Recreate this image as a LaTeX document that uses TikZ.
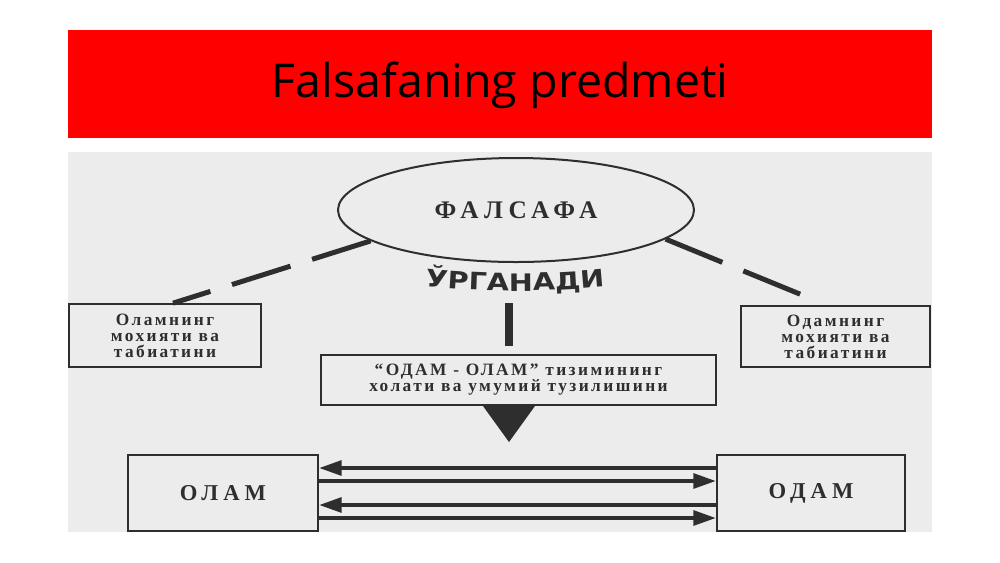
\documentclass[tikz,border=0pt]{standalone}
\usepackage{fontspec}
\setmainfont{Liberation Serif}
\newfontfamily\titlefont{Open Sans}
\newfontfamily\scanfont{Liberation Serif}[LetterSpace=14]
\newfontfamily\wordfont{Liberation Serif}[LetterSpace=22]
\newfontfamily\arcfont{DejaVu Sans}[FakeStretch=1.2]
\usetikzlibrary{shapes.geometric,arrows.meta,decorations.text}
\definecolor{banner}{rgb}{1,0,0}
\definecolor{scan}{rgb}{0.925,0.925,0.925}
\definecolor{ink}{rgb}{0.18,0.18,0.18}

\begin{document}
\begin{tikzpicture}[x=0.75pt,y=-0.75pt,
    frame/.style={draw=ink,line width=1.5pt,inner sep=0pt,text=ink},
    smalltext/.style={font=\scanfont\bfseries\fontsize{13}{12}\selectfont,align=center},
    dashline/.style={ink,line width=3.75pt,dash pattern=on 46pt off 17pt},
    flow/.style={ink,line width=3pt,-{Triangle[length=17pt,width=11pt]}}]
    \useasboundingbox (0,0) rectangle (1000,562);
    % title banner
    \fill[banner] (68,30) rectangle (932,138);
    \node[anchor=base,font=\titlefont\fontsize{34.9}{40}\selectfont] (title) at (500,97) {Falsafaning predmeti};
    % scanned scheme
    \fill[scan] (68,152) rectangle (932,532);
    \node[frame,ellipse,minimum width=267pt,minimum height=78pt,font=\wordfont\bfseries\fontsize{19}{19}\selectfont] (fals) at (516,210) {ФАЛСАФА};
    \path[decorate,decoration={text along path,text align=center,text color=ink,
        text={|\arcfont\bfseries\fontsize{18}{18}\selectfont|ЎРГАНАДИ}}]
        (410,285) .. controls (478,293) and (552,293) .. (620,285);
    \node[frame,smalltext,minimum width=144pt,minimum height=47pt] (olamtxt) at (165,335.5) {Оламнинг\\мохияти ва\\табиатини};
    \node[frame,smalltext,minimum width=142pt,minimum height=46pt] (odamtxt) at (835.5,336.5) {Одамнинг\\мохияти ва\\табиатини};
    \node[frame,smalltext,minimum width=296pt,minimum height=37.5pt] (mid) at (518.5,380) {“ОДАМ - ОЛАМ” тизимининг\\холати ва умумий тузилишини};
    \node[frame,font=\wordfont\bfseries\fontsize{17}{17}\selectfont,minimum width=142.5pt,minimum height=57pt] (olam) at (223,493) {ОЛАМ};
    \node[frame,font=\wordfont\bfseries\fontsize{17}{17}\selectfont,minimum width=141pt,minimum height=57pt] (odam) at (811,493) {ОДАМ};
    \coordinate (bartop) at (509,303);
    % connectors
    \draw[dashline] (fals.192) -- ([xshift=6pt]olamtxt.north);
    \draw[dashline,shorten >=6pt] (fals.349) -- ([xshift=-7pt]odamtxt.north);
    \draw[ink,line width=6pt,shorten >=6pt] (bartop) -- (bartop |- mid.north);
    \fill[ink] (483,406) -- (535,406) -- (509,442) -- cycle;
    \draw[flow] ([yshift=18.75pt]odam.west) -- ([yshift=18.75pt]olam.east);
    \draw[flow] ([yshift=9pt]olam.east) -- ([yshift=9pt]odam.west);
    \draw[flow] ([yshift=-9pt]odam.west) -- ([yshift=-9pt]olam.east);
    \draw[flow] ([yshift=-18.75pt]olam.east) -- ([yshift=-18.75pt]odam.west);
\end{tikzpicture}
\end{document}
